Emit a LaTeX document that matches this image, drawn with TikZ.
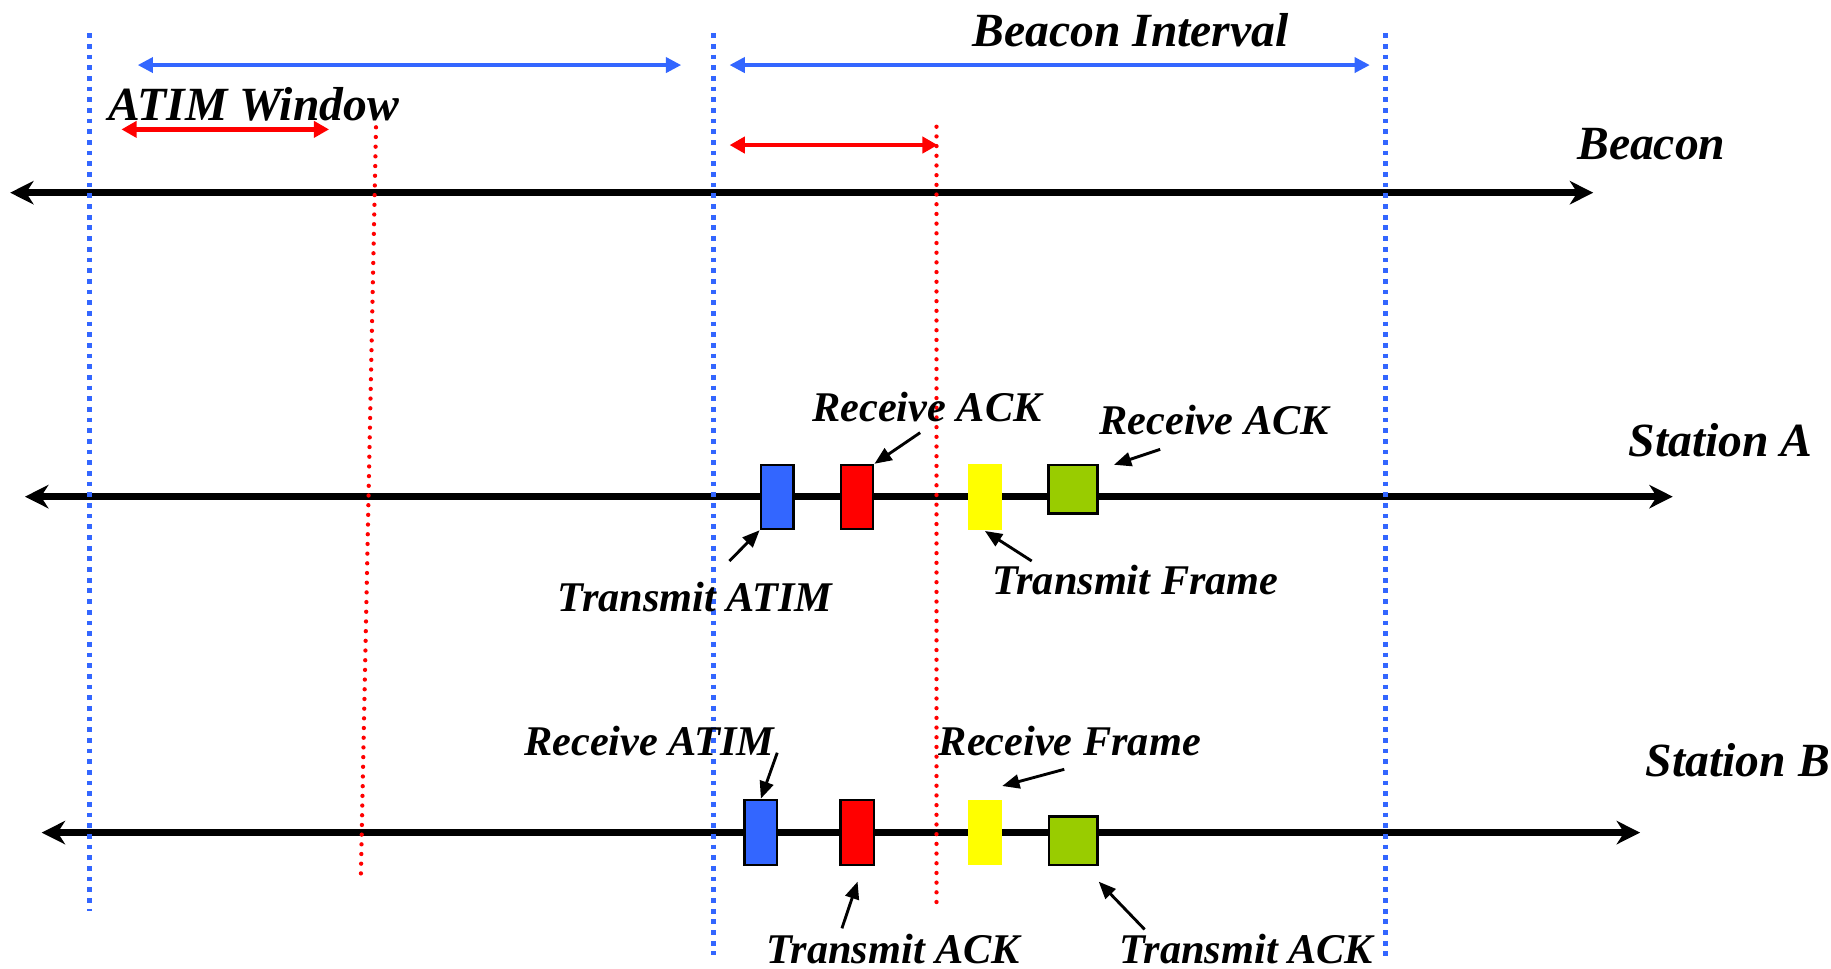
\documentclass[tikz,border=0pt]{standalone}
\usepackage{fontspec}
\setmainfont{Liberation Serif}
\usetikzlibrary{arrows.meta}
\definecolor{myblue}{HTML}{3366FF}
\definecolor{mygreen}{HTML}{99CC00}
\definecolor{myyellow}{HTML}{FFFF00}
\begin{document}
\begin{tikzpicture}[x=0.01cm,y=-0.01cm,
  timeline/.style={line width=1.8pt,
    {Stealth[length=5.7pt,width=5.7pt,inset=1.8pt]}-{Stealth[length=5.7pt,width=5.7pt,inset=1.8pt]}},
  bluedot/.style={myblue, line width=1.2pt, dash pattern=on 1.15pt off 1.45pt},
  reddot/.style={red, line width=1.05pt, line cap=round, dash pattern=on 0pt off 2.36pt},
  bluespan/.style={myblue, line width=0.8pt,
    {Triangle[length=3.7pt,width=3.7pt]}-{Triangle[length=3.7pt,width=3.7pt]}},
  redspan/.style={red, line width=1.1pt,
    {Triangle[length=3.7pt,width=3.9pt]}-{Triangle[length=3.7pt,width=3.9pt]}},
  pointer/.style={line width=0.7pt, -{Triangle[length=4.2pt,width=3.4pt]}},
  ttl/.style={font=\fontsize{11.6}{13}\selectfont\bfseries\itshape, inner sep=0pt, anchor=base west},
  lbl/.style={font=\fontsize{10.3}{12}\selectfont\bfseries\itshape, inner sep=0pt, anchor=base west},
  pkt/.style={draw=black, line width=0.6pt, inner sep=0pt, rectangle},
  pktn/.style={draw=none, inner sep=0pt, rectangle}
]
\useasboundingbox (0,0) rectangle (1568,829);

% timelines
\coordinate (bl) at (8.7,165);   \coordinate (br) at (1364.4,165);
\coordinate (al) at (21.4,425.3); \coordinate (ar) at (1432.5,425.3);
\coordinate (sbl) at (35.7,713);  \coordinate (sbr) at (1404.5,713);
\draw[timeline] (bl) -- (br);
\draw[timeline] (al) -- (ar);
\draw[timeline] (sbl) -- (sbr);

% dotted boundaries
\coordinate (v1t) at (76.3,28.5);   \coordinate (v1b) at (76.3,780);
\coordinate (v2t) at (610.7,28.5);  \coordinate (v2b) at (610.7,818);
\coordinate (v3t) at (1186.5,28.5); \coordinate (v3b) at (1186.5,822);
\draw[bluedot] (v1t) -- (v1b);
\draw[bluedot] (v2t) -- (v2b);
\draw[bluedot] (v3t) -- (v3b);
\coordinate (r1t) at (322,109);  \coordinate (r1b) at (309,752);
\coordinate (r2t) at (802,108.5); \coordinate (r2b) at (802,778);
\draw[reddot] (r1t) -- (r1b);
\draw[reddot] (r2t) -- (r2b);

% spans
\coordinate (s1a) at (118,55.7);   \coordinate (s1b) at (583.3,55.7);
\coordinate (s2a) at (624.8,55.7); \coordinate (s2b) at (1173,55.7);
\coordinate (w1a) at (104,110.8);  \coordinate (w1b) at (281.8,110.8);
\coordinate (w2a) at (624.8,124.2); \coordinate (w2b) at (803,124.2);
\draw[bluespan] (s1a) -- (s1b);
\draw[bluespan] (s2a) -- (s2b);
\draw[redspan] (w1a) -- (w1b);
\draw[redspan] (w2a) -- (w2b);

% Station A packets
\node[pkt, fill=myblue, minimum width=0.279cm, minimum height=0.548cm] (ba) at (665.5,425.6) {};
\node[pkt, fill=red, minimum width=0.276cm, minimum height=0.548cm] (ra) at (734,425.6) {};
\node[pktn, fill=myyellow, minimum width=0.29cm, minimum height=0.565cm] (ya) at (843.4,425.7) {};
\node[pkt, fill=mygreen, minimum width=0.416cm, minimum height=0.414cm] (ga) at (918.9,418.9) {};
% Station B packets
\node[pkt, fill=myblue, minimum width=0.28cm, minimum height=0.558cm] (bb) at (651.6,712.9) {};
\node[pkt, fill=red, minimum width=0.285cm, minimum height=0.558cm] (rb) at (734,712.9) {};
\node[pktn, fill=myyellow, minimum width=0.295cm, minimum height=0.563cm] (yb) at (843.5,713) {};
\node[pkt, fill=mygreen, minimum width=0.417cm, minimum height=0.414cm] (gb) at (919,720.1) {};

% titles
\node[ttl] (tbi) at (832,40) {Beacon Interval};
\node[ttl] (tatim) at (92,102.8) {ATIM Window};
\node[ttl] (tbeacon) at (1350,137) {Beacon};
\node[ttl] (tsa) at (1394,391) {Station A};
\node[ttl] (tsb) at (1408.7,665) {Station B};

% labels
\node[lbl] (l1) at (695,361) {Receive ACK};
\node[lbl] (l2) at (941,372.5) {Receive ACK};
\node[lbl] (l3) at (477,523.8) {Transmit ATIM};
\node[lbl] (l4) at (849,509.5) {Transmit Frame};
\node[lbl] (l5) at (448.3,646.6) {Receive ATIM};
\node[lbl] (l6) at (803.3,646.6) {Receive Frame};
\node[lbl] (l7) at (655.7,824.8) {Transmit ACK};
\node[lbl] (l8) at (958,824.8) {Transmit ACK};

% pointers
\coordinate (p1) at (788,370.5);
\coordinate (p2) at (993.5,384.8); \coordinate (q2) at (954,398);
\coordinate (p3) at (624.7,480.4);
\coordinate (p4) at (883.5,480.4);
\coordinate (p5) at (665.6,644.6);
\coordinate (p6) at (911.4,658.8); \coordinate (q6) at (858.3,673.1);
\coordinate (p7) at (721,795);     \coordinate (q7) at (734.4,755);
\coordinate (p8) at (980.2,795.9); \coordinate (q8) at (940.9,755);
\draw[pointer] (p1) -- (ra.north east);
\draw[pointer] (p2) -- (q2);
\draw[pointer] (p3) -- (ba.south west);
\draw[pointer] (p4) -- (ya.south);
\draw[pointer] (p5) -- (bb.north);
\draw[pointer] (p6) -- (q6);
\draw[pointer] (p7) -- (q7);
\draw[pointer] (p8) -- (q8);
\end{tikzpicture}
\end{document}
